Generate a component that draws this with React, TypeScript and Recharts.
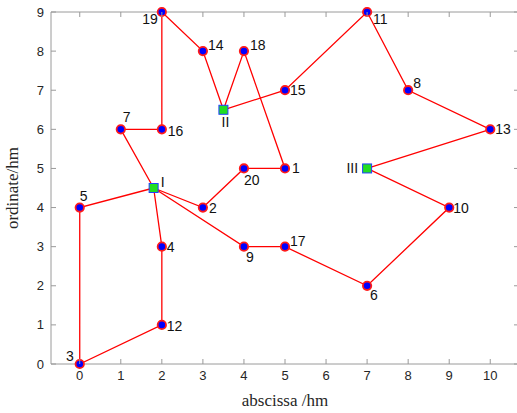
import { ScatterChart, Scatter, XAxis, YAxis, Label } from 'recharts'

// customer nodes: [id, x, y]
const customerIds = ['1', '2', '3', '4', '5', '6', '7', '8', '9', '10', '11', '12', '13', '14', '15', '16', '17', '18', '19', '20']
const customerX = [5, 3, 0, 2, 0, 7, 1, 8, 4, 9, 7, 2, 10, 3, 5, 2, 5, 4, 2, 4]
const customerY = [5, 4, 0, 3, 4, 2, 6, 7, 3, 4, 9, 1, 6, 8, 7, 6, 3, 8, 9, 5]

const depotIds = ['I', 'II', 'III']
const depotX = [1.8, 3.5, 7]
const depotY = [4.5, 6.5, 5]

// vehicle routes as node sequences
const route1 = ['I', '5', '3', '12', '4', 'I']
const route2 = ['I', '7', '16', '19', '14', 'II', '18', '1', '20', '2', 'I']
const route3 = ['II', '15', '11', '8', '13', 'III', '10', '6', '17', '9', 'I']

const xTicks = [0, 1, 2, 3, 4, 5, 6, 7, 8, 9, 10]
const yTicks = [0, 1, 2, 3, 4, 5, 6, 7, 8, 9]

// label placement relative to marker: [dx, dy, anchor]
const labelPos: Record<string, [number, number, string]> = {
  '1': [7, 0, 'start'], '2': [6, 1, 'start'], '3': [-6, -8, 'end'], '4': [5, 0, 'start'],
  '5': [0, -11, 'start'], '6': [3, 9, 'start'], '7': [2, -12, 'start'], '8': [5, -7, 'start'],
  '9': [2, 10, 'start'], '10': [4, 1, 'start'], '11': [6, 7, 'start'], '12': [5, 1, 'start'],
  '13': [5, 0, 'start'], '14': [5, -6, 'start'], '15': [5, 0, 'start'], '16': [6, 2, 'start'],
  '17': [5, -6, 'start'], '18': [6, -6, 'start'], '19': [-4, 7, 'end'], '20': [0, 12, 'start'],
  'I': [7, -6, 'start'], 'II': [2, 12, 'middle'], 'III': [-9, 0, 'end'],
}

const customers = customerIds.map((id, i) => ({ id, x: customerX[i], y: customerY[i] }))
const depots = depotIds.map((id, i) => ({ id, x: depotX[i], y: depotY[i] }))
const allNodes = [...customers, ...depots]
const toPoints = (r: string[]) => r.map((id) => allNodes.find((n) => n.id === id)!)

const AXIS = '#9a9a9a'
const TXT = '#262626'
const tickFont = { fontFamily: 'Arial, "Liberation Sans", sans-serif', fontSize: 13, fill: TXT }
const serif = { fontFamily: '"Liberation Serif", "Times New Roman", serif', fontSize: 17, fill: TXT }

function NodeLabel({ cx, cy, id }: any) {
  const [dx, dy, anchor] = labelPos[id] || [5, 0, 'start']
  return (
    <text x={cx + dx} y={cy + dy} dy="0.35em" textAnchor={anchor as any}
      style={{ ...tickFont, fontSize: 14, fill: '#111' }}>{id}</text>
  )
}

function CustomerShape(p: any) {
  return (
    <g>
      <circle cx={p.cx} cy={p.cy} r={4.2} fill="#0000ff" stroke="#ff1a1a" strokeWidth={1.8} />
      <NodeLabel cx={p.cx} cy={p.cy} id={p.payload.id} />
    </g>
  )
}

function DepotShape(p: any) {
  return (
    <g>
      <rect x={p.cx - 4.5} y={p.cy - 4.5} width={9} height={9} fill="#22dd22" stroke="#2040ff" strokeWidth={1} />
      <NodeLabel cx={p.cx} cy={p.cy} id={p.payload.id} />
    </g>
  )
}

const BottomTick = (p: any) => (
  <g>
    <line x1={p.x} x2={p.x} y1={p.y} y2={p.y - 5} stroke={AXIS} />
    <text x={p.x} y={p.y + 16} textAnchor="middle" style={tickFont}>{p.payload.value}</text>
  </g>
)
const TopTick = (p: any) => <line x1={p.x} x2={p.x} y1={p.y} y2={p.y + 5} stroke={AXIS} />
const LeftTick = (p: any) => (
  <g>
    <line x1={p.x} x2={p.x + 5} y1={p.y} y2={p.y} stroke={AXIS} />
    <text x={p.x - 7} y={p.y} dy="0.35em" textAnchor="end" style={tickFont}>{p.payload.value}</text>
  </g>
)
const RightTick = (p: any) => <line x1={p.x} x2={p.x - 5} y1={p.y} y2={p.y} stroke={AXIS} />

const noShape = () => <g />
const routeLine = { stroke: '#ff0000', strokeWidth: 1.3 }

export default function App() {
  return (
    <div style={{ position: 'absolute', left: 0, top: 0, width: 517, height: 413, overflow: 'hidden', background: '#fff' }}>
      <ScatterChart width={520} height={413} margin={{ top: 11, right: 0, left: 0, bottom: 0 }}>
        <XAxis xAxisId={0} dataKey="x" type="number" domain={[-0.7, 10.7]} ticks={xTicks}
          height={49} tickSize={0} tickMargin={0} tickLine={false}
          axisLine={{ stroke: AXIS }} tick={BottomTick} interval={0}>
          <Label value="abscissa /hm" position="insideBottom" offset={7} style={serif} />
        </XAxis>
        <XAxis xAxisId="top" orientation="top" dataKey="x" type="number" domain={[-0.7, 10.7]} ticks={xTicks}
          height={1} tickSize={0} tickMargin={0} tickLine={false}
          axisLine={{ stroke: AXIS }} tick={TopTick} interval={0} />
        <YAxis yAxisId={0} dataKey="y" type="number" domain={[0, 9]} ticks={yTicks}
          width={51} tickSize={0} tickMargin={0} tickLine={false}
          axisLine={{ stroke: AXIS }} tick={LeftTick} interval={0}>
          <Label value="ordinate/hm" angle={-90} position="insideLeft" offset={12}
            style={{ ...serif, textAnchor: 'middle' }} />
        </YAxis>
        <YAxis yAxisId="right" orientation="right" dataKey="y" type="number" domain={[0, 9]} ticks={yTicks}
          width={1} tickSize={0} tickMargin={0} tickLine={false}
          axisLine={{ stroke: AXIS }} tick={RightTick} interval={0} />
        <Scatter xAxisId="top" yAxisId="right" data={customers} shape={noShape} isAnimationActive={false} />
        <Scatter data={toPoints(route1)} line={routeLine} shape={noShape} isAnimationActive={false} />
        <Scatter data={toPoints(route2)} line={routeLine} shape={noShape} isAnimationActive={false} />
        <Scatter data={toPoints(route3)} line={routeLine} shape={noShape} isAnimationActive={false} />
        <Scatter data={customers} shape={CustomerShape} isAnimationActive={false} />
        <Scatter data={depots} shape={DepotShape} isAnimationActive={false} />
      </ScatterChart>
    </div>
  )
}
